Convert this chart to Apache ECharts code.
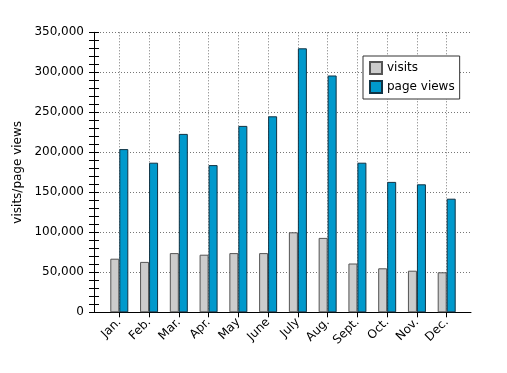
<!DOCTYPE html>
<html>
<head>
<meta charset="utf-8">
<script src="https://cdn.jsdelivr.net/npm/echarts@6/dist/echarts.min.js"></script>
<style>html,body{margin:0;padding:0;background:#fff}#c{width:507px;height:373px}</style>
</head>
<body>
<div id="c"></div>
<script>
const months = ['Jan.','Feb.','Mar.','Apr.','May','June','July','Aug.','Sept.','Oct.','Nov.','Dec.'];
const visits = [67000,63000,74000,72000,74000,74000,100000,93000,61000,55000,52000,50000];
const pageViews = [204000,187000,223000,184000,233000,245000,330000,296000,187000,163000,160000,142000];
const yMin = 0, yMax = 350000, yStep = 50000;

const font = 'DejaVu Sans';
const chart = echarts.init(document.getElementById('c'), null, {renderer:'canvas'});
const fmt = v => String(v).replace(/\B(?=(\d{3})+(?!\d))/g, ',');
chart.setOption({
  animation: false,
  backgroundColor: '#fff',
  textStyle: {fontFamily: font},
  grid: [
    {left: 94, top: 32.3, width: 377, height: 280, containLabel: false},
    {left: 119.3, top: 32.3, width: 327.4, height: 280, containLabel: false}
  ],
  legend: {
    orient: 'vertical', left: 363, top: 56,
    padding: [5, 5, 5, 6], itemGap: 5, itemWidth: 12, itemHeight: 12,
    borderColor: '#333', borderWidth: 1, backgroundColor: '#fff',
    textStyle: {fontFamily: font, fontSize: 12, color: '#000', lineHeight: 12},
    icon: 'rect',
    data: ['visits', 'page views']
  },
  xAxis: [
    {type: 'value', gridIndex: 0, min: 0, max: 1, position: 'bottom',
     axisLine: {show: true, onZero: false, lineStyle: {color: '#000', width: 1}},
     axisTick: {show: false}, axisLabel: {show: false}, splitLine: {show: false}},
    {type: 'category', gridIndex: 1, data: months, boundaryGap: false, position: 'bottom',
     axisLine: {show: false},
     axisTick: {show: true, length: 5, lineStyle: {color: '#000'}},
     axisLabel: {interval: 0, rotate: 45, margin: 8, fontSize: 12, fontFamily: font, color: '#000'},
     splitLine: {show: true, lineStyle: {color: '#777', type: [1, 2], width: 1}}}
  ],
  yAxis: [
    {type: 'value', gridIndex: 0, position: 'left', offset: 0, min: yMin, max: yMax, interval: yStep,
     name: 'visits/page views', nameLocation: 'middle', nameGap: 63,
     nameTextStyle: {fontFamily: font, fontSize: 12, color: '#000'},
     axisLine: {show: true, lineStyle: {color: '#000', width: 1}},
     axisTick: {show: true, inside: false, length: 5, lineStyle: {color: '#000'}},
     minorTick: {show: true, splitNumber: 5, length: 5, lineStyle: {color: '#000'}},
     axisLabel: {formatter: fmt, margin: 10, fontSize: 12, fontFamily: font, color: '#000'},
     splitLine: {show: true, lineStyle: {color: '#777', type: [1, 2], width: 1}}},
    {type: 'value', gridIndex: 0, position: 'left', offset: 0, min: yMin, max: yMax, interval: yStep,
     axisLine: {show: false},
     axisTick: {show: true, inside: true, length: 5, lineStyle: {color: '#000'}},
     minorTick: {show: true, splitNumber: 5, length: 5, lineStyle: {color: '#000'}},
     axisLabel: {show: false}, splitLine: {show: false}},
    {type: 'value', gridIndex: 1, position: 'left', min: yMin, max: yMax, show: false}
  ],
  series: [
    {name: 'visits', type: 'bar', xAxisIndex: 1, yAxisIndex: 2, data: visits,
     barWidth: 9, barGap: '0%', clip: false,
     itemStyle: {color: '#cccccc', borderColor: '#555555', borderWidth: 1}},
    {name: 'page views', type: 'bar', xAxisIndex: 1, yAxisIndex: 2, data: pageViews,
     barWidth: 9, barGap: '0%', clip: false,
     itemStyle: {color: '#0099cc', borderColor: '#113344', borderWidth: 1}}
  ]
});
</script>
</body>
</html>
